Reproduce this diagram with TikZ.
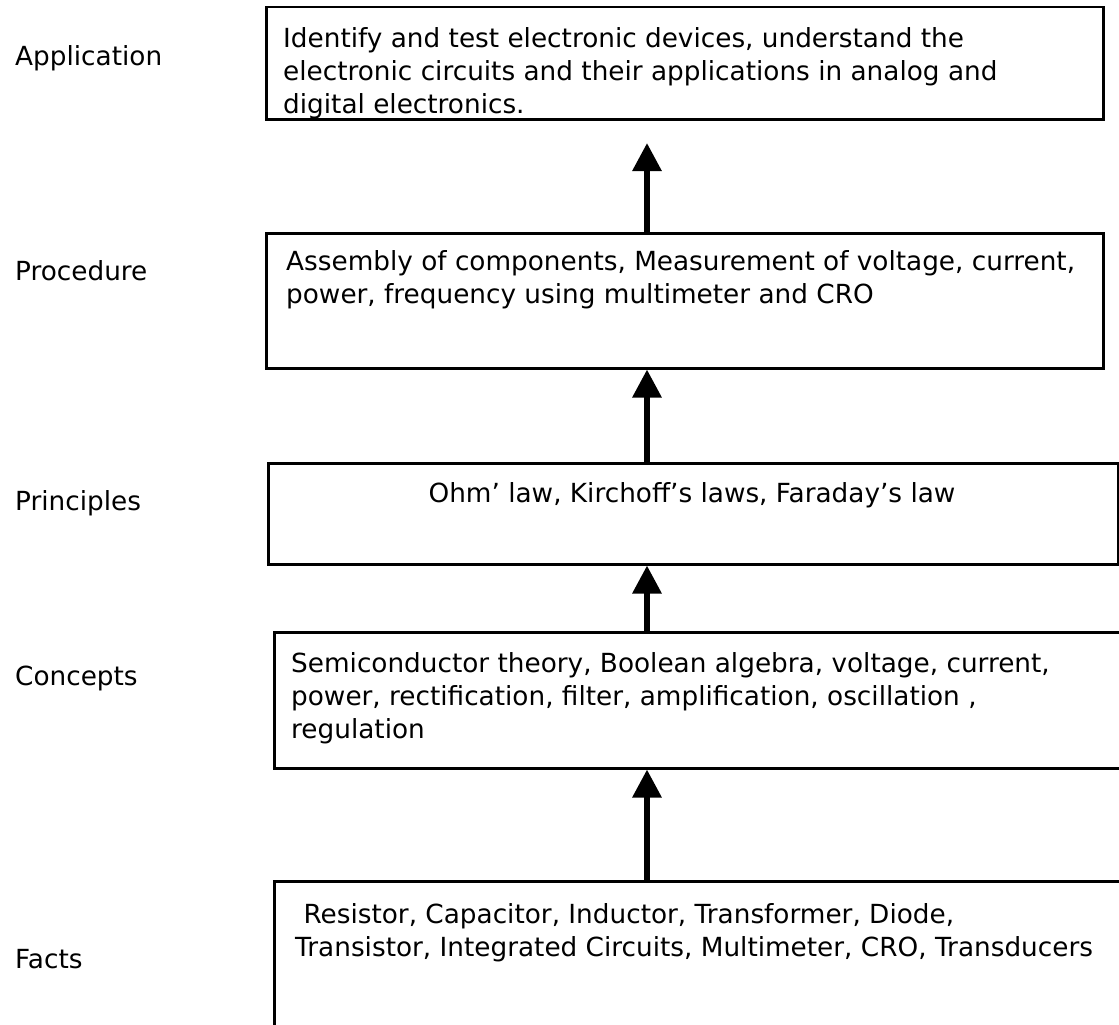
\documentclass[tikz,border=0pt]{standalone}
\usepackage{fontspec}
\setmainfont{DejaVu Sans}
\usetikzlibrary{arrows.meta, positioning}
\tikzset{
  box/.style={draw, line width=2.5pt, rectangle, inner sep=0pt, anchor=north west},
  txt/.style={align=left, inner sep=0pt, anchor=north west, font=\fontsize{26.3}{33}\selectfont},
  lbl/.style={inner sep=0pt, anchor=base west, font=\fontsize{26.3}{33}\selectfont},
  up/.style={line width=6pt, -{Triangle[length=28pt,width=28pt]}}
}
\begin{document}
\begin{tikzpicture}[x=1pt,y=-1pt]
    \useasboundingbox (0,0) rectangle (1119,1025);
    \clip (0,0) rectangle (1119,1025);

    % level names
    \node[lbl] (lapp) at (15,66) {Application};
    \node[lbl] (lproc) at (15,280) {Procedure};
    \node[lbl] (lprin) at (15,510) {Principles};
    \node[lbl] (lconc) at (15,685) {Concepts};
    \node[lbl] (lfact) at (15,968) {Facts};

    % boxes
    \node[box, minimum width=837pt, minimum height=112pt] (app) at (265,6) {};
    \node[box, minimum width=837pt, minimum height=135pt] (proc) at (265,232) {};
    \node[box, minimum width=850pt, minimum height=101pt] (prin) at (267,462) {};
    \node[box, minimum width=860pt, minimum height=136pt] (conc) at (273,631) {};
    \node[box, minimum width=860pt, minimum height=200pt] (fact) at (273,880) {};

    \node[txt] (tapp) at (283,27) {Identify and test electronic devices, understand the\\
        electronic circuits and their applications in analog and\\
        digital electronics.};
    \node[txt] (tproc) at (286,250) {Assembly of components, Measurement of voltage, current,\\
        power, frequency using multimeter and CRO};
    \node[lbl, anchor=base] (tprin) at (692,502) {Ohm’ law, Kirchoff’s laws, Faraday’s law};
    \node[txt] (tconc) at (291,652) {Semiconductor theory, Boolean algebra, voltage, current,\\
        power, rectification, filter, amplification, oscillation ,\\
        regulation};
    \node[txt] (tfact) at (295,903) {\ Resistor, Capacitor, Inductor, Transformer, Diode,\\
        Transistor, Integrated Circuits, Multimeter, CRO, Transducers};

    % arrows
    \coordinate (t1) at (647,143);
    \draw[up] (proc.north -| t1) -- (t1);
    \draw[up] (prin.north -| t1) -- (proc.south -| t1);
    \draw[up] (conc.north -| t1) -- (prin.south -| t1);
    \draw[up] (fact.north -| t1) -- (conc.south -| t1);
\end{tikzpicture}
\end{document}
